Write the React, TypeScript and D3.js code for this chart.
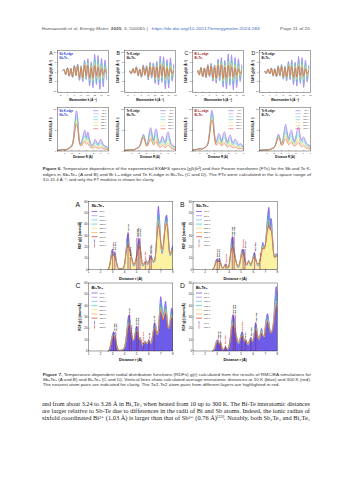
import React from 'react';
import * as d3 from 'd3';

const W = 353;
const H = 480;
const SANS = "'Liberation Sans', Arial, 'DejaVu Sans', sans-serif";
const SERIF = "'Liberation Serif', 'Times New Roman', 'DejaVu Serif', serif";

// temperatures shared by all panels
const temps = ['10 K', '50 K', '100 K', '150 K', '200 K', '250 K', '300 K'];
const tempColors = ['#7d3cd8', '#a48df2', '#63bdf0', '#3ccdb0', '#e3e867', '#f4ae48', '#e0392d'];
// where each temperature sits between the 10 K and 300 K curves
const tempMix = [0, 0.15, 0.32, 0.5, 0.66, 0.83, 1];

// EXAFS chi(k)k^2, k = 2.5 .. 15.5 step 0.5
const kGrid = d3.range(2.5, 15.51, 0.5);
const kTicks = [2, 4, 6, 8, 10, 12, 14, 16];
const chiTicks = [-10, -5, 0, 5, 10];
const exafsLow = [
  [0.3, 1.2, -1.5, 2.1, -2.4, 1.8, -3.0, 3.4, -2.2, 4.0, -4.6, 3.1, -5.2, 6.0, -4.1, 6.8, -7.5, 5.2, -8.4, 9.1, -6.8, 8.5, -9.3, 7.0, -8.0, 6.2, -4.5],
  [0.5, -1.0, 1.6, -0.8, 2.6, -2.2, 1.4, -3.0, 3.6, -2.0, 3.2, -4.4, 5.0, -3.4, 4.6, -6.2, 5.4, -7.0, 8.2, -5.6, 7.8, -9.0, 6.4, -8.6, 7.2, -5.0, 4.2],
  [0.8, -1.6, 2.2, -2.8, 2.0, -3.2, 3.8, -2.6, 4.4, -5.0, 3.6, -6.0, 6.6, -4.8, 7.4, -8.2, 6.0, -9.0, 9.4, -7.2, 8.8, -9.6, 7.6, -8.4, 6.8, -5.2, 3.8],
  [0.4, -0.9, 1.4, -1.2, 2.0, -2.4, 1.6, -2.8, 3.2, -2.4, 3.8, -4.0, 3.0, -4.8, 5.4, -4.2, 6.2, -6.8, 5.0, -7.6, 8.0, -6.2, 7.4, -8.2, 6.0, -5.4, 3.6],
];
const exafsHigh = [
  [0.3, 1.1, -1.4, 1.9, -2.1, 1.5, -2.5, 2.7, -1.7, 2.9, -3.1, 2.0, -3.1, 3.3, -2.1, 3.2, -3.2, 2.0, -3.0, 2.9, -2.0, 2.2, -2.1, 1.4, -1.4, 1.0, -0.6],
  [0.5, -0.9, 1.5, -0.7, 2.2, -1.8, 1.1, -2.3, 2.6, -1.4, 2.1, -2.7, 2.9, -1.9, 2.4, -3.0, 2.4, -2.9, 3.1, -2.0, 2.5, -2.6, 1.7, -2.0, 1.5, -0.9, 0.7],
  [0.8, -1.5, 2.0, -2.5, 1.7, -2.6, 2.9, -1.9, 3.0, -3.2, 2.2, -3.4, 3.5, -2.3, 3.3, -3.4, 2.3, -3.2, 3.1, -2.2, 2.4, -2.4, 1.7, -1.7, 1.2, -0.9, 0.6],
  [0.4, -0.8, 1.3, -1.1, 1.7, -2.0, 1.3, -2.2, 2.4, -1.7, 2.5, -2.5, 1.8, -2.6, 2.8, -2.0, 2.7, -2.8, 1.9, -2.7, 2.6, -1.9, 2.0, -2.1, 1.4, -1.1, 0.7],
];

// FT modulus, R = 0 .. 7 step 0.2
const ftR = d3.range(0, 7.01, 0.2);
const ftTicksX = [1, 2, 3, 4, 5, 6, 7];
const ftTicksY = [0, 5, 10];
const ftLow = [
  [0.1, 0.2, 0.2, 0.3, 0.4, 0.3, 0.3, 0.5, 0.8, 1.0, 1.4, 2.8, 6.5, 9.6, 8.0, 3.0, 1.8, 2.6, 4.2, 5.0, 3.4, 4.6, 3.0, 1.8, 1.4, 2.0, 2.8, 2.2, 1.6, 2.4, 2.8, 2.0, 1.4, 1.2, 1.0, 0.8],
  [0.1, 0.2, 0.2, 0.3, 0.3, 0.4, 0.3, 0.4, 0.6, 0.8, 1.0, 1.8, 3.2, 4.0, 3.0, 1.6, 2.2, 4.4, 5.6, 4.0, 2.6, 4.8, 5.2, 3.0, 2.0, 2.6, 3.6, 2.8, 2.2, 3.8, 4.6, 3.2, 1.8, 1.4, 1.2, 1.0],
  [0.2, 0.3, 0.3, 0.4, 0.5, 0.6, 0.5, 0.6, 0.8, 1.0, 1.4, 2.6, 5.8, 9.6, 8.8, 4.4, 2.2, 3.0, 4.2, 3.6, 2.4, 4.0, 4.6, 3.2, 2.2, 3.4, 3.8, 2.6, 2.0, 2.8, 2.6, 1.8, 1.6, 1.8, 1.4, 1.2],
  [0.1, 0.2, 0.2, 0.3, 0.3, 0.3, 0.3, 0.4, 0.5, 0.7, 0.9, 1.6, 3.0, 4.0, 3.2, 1.8, 2.6, 5.0, 6.4, 4.6, 3.0, 4.4, 5.0, 3.4, 2.4, 3.6, 5.2, 5.6, 3.6, 2.6, 3.4, 3.0, 2.0, 1.6, 1.4, 1.2],
];
const ftHigh = [
  [0.1, 0.2, 0.2, 0.3, 0.3, 0.3, 0.3, 0.4, 0.6, 0.8, 1.1, 2.2, 4.6, 6.4, 5.4, 2.2, 1.2, 1.4, 2.0, 2.2, 1.6, 1.8, 1.2, 0.8, 0.7, 0.8, 1.0, 0.8, 0.6, 0.7, 0.8, 0.6, 0.5, 0.4, 0.4, 0.3],
  [0.1, 0.2, 0.2, 0.2, 0.3, 0.3, 0.3, 0.3, 0.5, 0.7, 0.9, 1.5, 2.6, 3.2, 2.4, 1.2, 1.3, 2.2, 2.8, 2.0, 1.4, 2.0, 2.2, 1.3, 0.9, 1.0, 1.3, 1.0, 0.8, 1.2, 1.4, 1.0, 0.6, 0.5, 0.4, 0.4],
  [0.2, 0.3, 0.3, 0.4, 0.4, 0.5, 0.5, 0.5, 0.7, 0.9, 1.2, 2.2, 4.6, 7.2, 6.6, 3.4, 1.5, 1.6, 2.0, 1.8, 1.2, 1.6, 1.8, 1.3, 0.9, 1.2, 1.3, 0.9, 0.7, 0.9, 0.8, 0.6, 0.5, 0.6, 0.5, 0.4],
  [0.1, 0.2, 0.2, 0.2, 0.3, 0.3, 0.3, 0.3, 0.4, 0.6, 0.8, 1.4, 2.4, 3.2, 2.6, 1.4, 1.5, 2.4, 2.9, 2.1, 1.5, 1.9, 2.1, 1.5, 1.1, 1.4, 1.9, 2.0, 1.3, 1.0, 1.2, 1.0, 0.7, 0.6, 0.5, 0.5],
];

// RDF g(r), r = 2.6 .. 8.0 step 0.1 (zero below)
const rdfR = d3.range(2.6, 8.01, 0.1);
const rdfTicksX = [1, 2, 3, 4, 5, 6, 7, 8];
const rdfTicksY = [0, 10, 20, 30, 40, 50, 60];
const rdfLow = [
  [0, 1, 6, 15, 18, 12, 15, 9, 2, 0.5, 0.3, 0.5, 0.5, 1, 4, 14, 28, 32, 20, 16, 10, 4, 3, 6, 12, 22, 27, 20, 8, 3, 4, 7, 8, 4, 6, 11, 12, 9, 6, 7, 18, 40, 56, 44, 24, 14, 18, 32, 46, 48, 34, 16, 12, 18, 21],
  [0, 0.5, 3, 8, 9, 7, 10, 6, 1.5, 1, 3, 5, 3, 1, 3, 12, 26, 29, 18, 12, 6, 2, 2, 6, 14, 18, 17, 10, 4, 4, 8, 6, 3, 6, 12, 15, 10, 5, 3, 5, 10, 18, 24, 20, 22, 34, 48, 55, 44, 45, 30, 14, 10, 14, 13],
  [0, 0.5, 3, 10, 15, 17, 14, 8, 2, 0.5, 0.3, 0.5, 0.8, 1, 3, 8, 20, 30, 32, 22, 15, 9, 10, 18, 22, 18, 10, 12, 8, 4, 6, 9, 7, 6, 10, 8, 6, 12, 20, 25, 22, 14, 18, 36, 48, 40, 30, 38, 44, 34, 22, 20, 30, 38, 34],
  [0, 0.5, 2, 7, 10, 8, 6, 8, 3, 1, 2, 4, 2, 1, 4, 12, 24, 32, 30, 20, 14, 8, 6, 10, 15, 17, 12, 8, 10, 6, 5, 9, 12, 8, 10, 18, 25, 20, 12, 10, 16, 20, 14, 12, 22, 30, 33, 26, 18, 16, 20, 28, 45, 57, 50],
];
const rdfHigh = [
  [0, 2, 6, 11, 13, 12, 11, 7, 3, 1, 0.6, 0.8, 1, 2, 6, 13, 19, 21, 17, 13, 9, 6, 5, 8, 12, 17, 20, 17, 10, 5, 5, 6, 7, 6, 7, 9, 10, 9, 8, 9, 17, 30, 38, 34, 24, 18, 21, 30, 38, 40, 32, 19, 14, 16, 17],
  [0, 1, 3, 6, 7, 7, 7, 5, 2, 1.5, 3, 4, 3, 2, 5, 12, 18, 19, 15, 10, 6, 4, 4, 7, 11, 14, 13, 9, 5, 5, 7, 6, 5, 7, 10, 11, 9, 6, 5, 6, 10, 15, 19, 18, 21, 28, 35, 38, 35, 34, 25, 14, 11, 12, 11],
  [0, 1, 4, 8, 12, 13, 11, 7, 3, 1, 0.6, 0.8, 1, 2, 4, 9, 16, 21, 22, 18, 13, 10, 11, 15, 17, 15, 11, 10, 8, 6, 7, 8, 7, 7, 8, 8, 8, 11, 16, 19, 18, 15, 18, 28, 34, 31, 27, 30, 33, 28, 21, 20, 25, 29, 27],
  [0, 1, 3, 6, 8, 7, 6, 6, 3, 1.5, 2, 3, 2, 2, 5, 11, 18, 22, 21, 16, 12, 9, 8, 10, 12, 13, 11, 9, 9, 7, 7, 9, 10, 9, 10, 14, 18, 16, 12, 11, 14, 16, 13, 13, 18, 23, 25, 22, 17, 16, 18, 23, 32, 38, 35],
];

type Pair = { r: number; top: number; label: string; hot?: boolean };
const rdfPairs: Pair[][] = [
  [
    { r: 2.99, top: 16, label: 'Sb-Te2' }, { r: 3.17, top: 16, label: 'Sb-Te1' },
    { r: 4.27, top: 33, label: 'Sb-Sb' }, { r: 4.45, top: 11, label: 'Te1-Te2' },
    { r: 5.0, top: 28, label: 'Sb-Te1' }, { r: 5.13, top: 28, label: 'Te1-Te1' }, { r: 5.26, top: 28, label: 'Sb-Te2' },
    { r: 5.72, top: 7, label: 'Te2-Te2', hot: true },
    { r: 6.07, top: 13, label: 'Sb-Sb' }, { r: 6.2, top: 13, label: 'Te1-Te2' },
  ],
  [
    { r: 3.0, top: 10, label: 'Te2-Sb' }, { r: 3.17, top: 10, label: 'Te1-Sb' },
    { r: 3.72, top: 5, label: 'Te2-Te2', hot: true },
    { r: 4.25, top: 29, label: 'Te1-Te1' }, { r: 4.4, top: 29, label: 'Te1-Te2' },
    { r: 5.15, top: 18, label: 'Te2-Te2', hot: true }, { r: 5.3, top: 18, label: 'Te-Sb' },
    { r: 6.1, top: 15, label: 'Te1-Te2' }, { r: 6.55, top: 6, label: 'Te2-Te2', hot: true },
  ],
  [
    { r: 3.07, top: 17, label: 'Bi-Te2' }, { r: 3.25, top: 17, label: 'Bi-Te1' },
    { r: 4.38, top: 32, label: 'Bi-Bi' }, { r: 4.55, top: 14, label: 'Te1-Te1' },
    { r: 4.97, top: 22, label: 'Bi-Te1' }, { r: 5.12, top: 22, label: 'Bi-Te2' },
    { r: 5.55, top: 8, label: 'Te2-Te2', hot: true }, { r: 6.0, top: 10, label: 'Bi-Bi' },
    { r: 6.45, top: 25, label: 'Bi-Te' },
  ],
  [
    { r: 3.07, top: 10, label: 'Te2-Bi' }, { r: 3.25, top: 10, label: 'Te1-Bi' },
    { r: 3.68, top: 5, label: 'Te2-Te2', hot: true },
    { r: 4.35, top: 32, label: 'Te1-Te1' }, { r: 4.5, top: 32, label: 'Te1-Te2' },
    { r: 5.05, top: 17, label: 'Te2-Te2', hot: true }, { r: 5.35, top: 10, label: 'Te-Bi' },
    { r: 5.8, top: 12, label: 'Te1-Te1' }, { r: 6.2, top: 25, label: 'Te1-Te2' },
  ],
];

const letters = ['A', 'B', 'C', 'D'];
const edges = ['Sb K-edge', 'Te K-edge', 'Bi L₃-edge', 'Te K-edge'];
const compounds = ['Sb₂Te₃', 'Sb₂Te₃', 'Bi₂Te₃', 'Bi₂Te₃'];
const edgeTints = ['#2b3bd6', '#111', '#a0141e', '#111'];

function blend(low: number[], high: number[], m: number) {
  return low.map((v, i) => v + (high[i] - v) * m);
}

function Frame({ x, y, w, h }: { x: number; y: number; w: number; h: number }) {
  return <rect x={x} y={y} width={w} height={h} fill="none" stroke="#222" strokeWidth={0.4} />;
}

function Axes({ xs, ys, xt, yt, size }: any) {
  const [x0] = xs.range();
  const [y0] = ys.range();
  return (
    <g fontFamily={SANS} fontSize={size} fill="#222">
      {xt.map((t: number) => (
        <g key={'x' + t}>
          <line x1={xs(t)} x2={xs(t)} y1={y0} y2={y0 - 1} stroke="#222" strokeWidth={0.3} />
          <text x={xs(t)} y={y0 + size + 0.6} textAnchor="middle">{t}</text>
        </g>
      ))}
      {yt.map((t: number) => (
        <g key={'y' + t}>
          <line x1={x0} x2={x0 + 1} y1={ys(t)} y2={ys(t)} stroke="#222" strokeWidth={0.3} />
          <text x={x0 - 1} y={ys(t) + size * 0.35} textAnchor="end">{t}</text>
        </g>
      ))}
    </g>
  );
}

function ExafsPanel({ i, px, py, w, h }: any) {
  const x = d3.scaleLinear().domain([1, 16]).range([px, px + w]);
  const y = d3.scaleLinear().domain([-11, 11]).range([py + h, py]);
  const line = d3.line<number>().x((_, j) => x(kGrid[j])).y((d) => y(d)).curve(d3.curveCardinal);
  return (
    <g>
      {tempMix.map((m, t) => (
        <path key={t} d={line(blend(exafsLow[i], exafsHigh[i], m)) || ''} fill="none" stroke={tempColors[t]} strokeWidth={0.45} />
      ))}
      <Frame x={px} y={py} w={w} h={h} />
      <Axes xs={x} ys={y} xt={kTicks} yt={chiTicks} size={2.3} />
      <text x={px - 8} y={py + 4} fontFamily={SANS} fontSize={5.2} fill="#111">{letters[i]}</text>
      <g fontFamily={SANS} fontSize={2.8} fontWeight="bold" fill={edgeTints[i]}>
        <text x={px + 2} y={py + 4.2}>{edges[i]}</text>
        <text x={px + 2} y={py + 8}>{compounds[i]}</text>
      </g>
      <text x={px + w / 2} y={py + h + 8.2} textAnchor="middle" fontFamily={SANS} fontSize={2.9} fontWeight="bold">Wavenumber k (Å⁻¹)</text>
      <text transform={`translate(${px - 5.5},${py + h / 2}) rotate(-90)`} textAnchor="middle" fontFamily={SANS} fontSize={2.6} fontWeight="bold">EXAFS χ(k)k² (Å⁻²)</text>
    </g>
  );
}

function FtPanel({ i, px, py, w, h }: any) {
  const x = d3.scaleLinear().domain([0, 7]).range([px, px + w]);
  const y = d3.scaleLinear().domain([0, 10.4]).range([py + h, py]);
  const line = d3.line<number>().x((_, j) => x(ftR[j])).y((d) => y(d)).curve(d3.curveCardinal);
  return (
    <g>
      {tempMix.map((m, t) => (
        <path key={t} d={line(blend(ftLow[i], ftHigh[i], m)) || ''} fill="none" stroke={tempColors[t]} strokeWidth={0.45} />
      ))}
      <Frame x={px} y={py} w={w} h={h} />
      <Axes xs={x} ys={y} xt={ftTicksX} yt={ftTicksY} size={2.3} />
      <g fontFamily={SANS} fontSize={2.8} fontWeight="bold" fill={edgeTints[i]}>
        <text x={px + 2} y={py + 4.2}>{edges[i]}</text>
        <text x={px + 2} y={py + 8}>{compounds[i]}</text>
      </g>
      <g fontFamily={SANS} fontSize={2} fill="#222">
        {temps.map((lab, t) => (
          <g key={lab}>
            <line x1={px + w - 15} x2={px + w - 10} y1={py + 3 + t * 3} y2={py + 3 + t * 3} stroke={tempColors[t]} strokeWidth={0.5} />
            <text x={px + w - 2} y={py + 3.7 + t * 3} textAnchor="end">{lab}</text>
          </g>
        ))}
      </g>
      <text x={px + w / 2} y={py + h + 7.2} textAnchor="middle" fontFamily={SANS} fontSize={2.9} fontWeight="bold">Distance R (Å)</text>
      <text transform={`translate(${px - 5.5},${py + h / 2}) rotate(-90)`} textAnchor="middle" fontFamily={SANS} fontSize={2.6} fontWeight="bold">FT MODULUS (Å⁻³)</text>
    </g>
  );
}

function RdfPanel({ i, px, py, w, h }: any) {
  const x = d3.scaleLinear().domain([1, 8]).range([px, px + w]);
  const y = d3.scaleLinear().domain([0, 60]).range([py + h, py]);
  const line = d3.line<number>().x((_, j) => x(rdfR[j])).y((d) => y(d)).curve(d3.curveMonotoneX);
  const area = d3.area<number>().x((_, j) => x(rdfR[j])).y0(y(0)).y1((d) => y(d)).curve(d3.curveMonotoneX);
  const lowFill = <path d={area(rdfLow[i]) || ''} fill="#6d5ce8" />;
  const highFill = <path d={area(rdfHigh[i]) || ''} fill="#fbf3a2" />;
  const sbTe = i < 2;
  return (
    <g>
      {sbTe ? lowFill : highFill}
      {sbTe ? highFill : lowFill}
      {tempMix.map((m, t) => (
        <path key={t} d={line(blend(rdfLow[i], rdfHigh[i], m)) || ''} fill="none" stroke={tempColors[t]} strokeWidth={0.5} />
      ))}
      {rdfPairs[i].map((p, k) => (
        <g key={k}>
          <line x1={x(p.r)} x2={x(p.r)} y1={y(0)} y2={y(p.top)} stroke="#1a2fe0" strokeWidth={0.35} />
          <line x1={x(p.r + 0.03)} x2={x(p.r + 0.03)} y1={y(0)} y2={y(p.top)} stroke="#e0201a" strokeWidth={0.35} />
          <text transform={`translate(${x(p.r) + 1.1},${y(p.top) - 1}) rotate(-90)`} fontFamily={SANS} fontSize={2.5} fontWeight="bold" fill={p.hot ? '#e0201a' : '#111'}>{p.label}</text>
        </g>
      ))}
      <Frame x={px} y={py} w={w} h={h} />
      <Axes xs={x} ys={y} xt={rdfTicksX} yt={rdfTicksY} size={2.9} />
      <text x={px - 13} y={py + 5} fontFamily={SANS} fontSize={6.8} fill="#111">{letters[i]}</text>
      <text x={px + 3} y={py + 5.5} fontFamily={SANS} fontSize={3.8} fontWeight="bold">{compounds[i]}</text>
      <g fontFamily={SANS} fontSize={2.5} fill="#222">
        {temps.map((lab, t) => (
          <g key={lab}>
            <line x1={px + 3} x2={px + 9} y1={py + 10 + t * 4.2} y2={py + 10 + t * 4.2} stroke={tempColors[t]} strokeWidth={0.7} />
            <text x={px + 11} y={py + 10.9 + t * 4.2}>{lab}</text>
          </g>
        ))}
        {['10 K', '300 K'].map((lab, t) => (
          <g key={'v' + lab}>
            <line x1={px + 6} x2={px + 6} y1={py + 38 + t * 4.2} y2={py + 41.5 + t * 4.2} stroke={t ? '#e0201a' : '#1a2fe0'} strokeWidth={0.5} />
            <text x={px + 11} y={py + 40.7 + t * 4.2}>{lab}</text>
          </g>
        ))}
      </g>
      <text x={px + w / 2} y={py + h + 10.3} textAnchor="middle" fontFamily={SANS} fontSize={3.6} fontWeight="bold">Distance r (Å)</text>
      <text transform={`translate(${px - 8},${py + h / 2}) rotate(-90)`} textAnchor="middle" fontFamily={SANS} fontSize={3.1} fontWeight="bold">RDF g(r) (atoms/Å)</text>
    </g>
  );
}

function TextLine({ x, y, len, size, font, fill = '#333', children }: any) {
  return (
    <text x={x} y={y} fontFamily={font} fontSize={size} fill={fill} textLength={len} lengthAdjust="spacingAndGlyphs">{children}</text>
  );
}

const fig6X = [57.3, 124.5, 192.5, 259.5];
const fig7X = [88.5, 193, 88.5, 193];
const fig7Y = [201.5, 201.5, 283, 283];

export default function App() {
  return (
    <div style={{ width: W, height: H, background: '#fff' }}>
      <style>{'body{margin:0;background:#fff}'}</style>
      <svg width={W} height={H} viewBox={`0 0 ${W} ${H}`} style={{ display: 'block' }}>
        <rect width={W} height={H} fill="#fff" />
        <TextLine x={41.7} y={30.3} len={106} size={3.7} font={SANS} fill="#555">
          Hamawandi <tspan fontStyle="italic">et al. Energy Mater.</tspan> <tspan fontWeight="bold">2025</tspan>, <tspan fontStyle="italic">5</tspan>, 500065 |
        </TextLine>
        <TextLine x={151.7} y={30.3} len={108} size={3.7} font={SANS} fill="#3b6cc4">https://dx.doi.org/10.20517/energymater.2024.284</TextLine>
        <TextLine x={280} y={30.3} len={30} size={3.7} font={SANS} fill="#555">Page 11 of 20</TextLine>

        {fig6X.map((px, i) => <ExafsPanel key={'e' + i} i={i} px={px} py={50.7} w={51} h={42} />)}
        {fig6X.map((px, i) => <FtPanel key={'f' + i} i={i} px={px} py={107.7} w={51} h={43.3} />)}

        <TextLine x={42.7} y={170.4} len={268.3} size={4} font={SANS}>
          <tspan fontWeight="bold">Figure 6.</tspan> Temperature dependence of the experimental EXAFS spectra [χ(k)k²] and their Fourier transforms (FTs) for the Sb and Te K-
        </TextLine>
        <TextLine x={42.7} y={175.8} len={268.3} size={4} font={SANS}>
          edges in Sb₂Te₃ (A and B) and Bi L₃-edge and Te K-edge in Bi₂Te₃ (C and D). The FTs were calculated in the k-space range of
        </TextLine>
        <TextLine x={42.7} y={181.3} len={112} size={4} font={SANS}>
          3.0-15.4 Å⁻¹, and only the FT modulus is shown for clarity.
        </TextLine>

        {fig7X.map((px, i) => <RdfPanel key={'r' + i} i={i} px={px} py={fig7Y[i]} w={84.3} h={68} />)}

        <TextLine x={42.7} y={375.7} len={268.3} size={4} font={SANS}>
          <tspan fontWeight="bold">Figure 7.</tspan> Temperature-dependent radial distribution functions (RDFs) g(r) calculated from the results of RMC/EA simulations for
        </TextLine>
        <TextLine x={42.7} y={380.9} len={268.3} size={4} font={SANS}>
          Sb₂Te₃ (A and B) and Bi₂Te₃ (C and D). Vertical lines show calculated average interatomic distances at 10 K (blue) and 300 K (red).
        </TextLine>
        <TextLine x={42.7} y={386.1} len={237} size={4} font={SANS}>
          The nearest atom pairs are indicated for clarity. The Te2-Te2 atom pairs from different layers are highlighted in red.
        </TextLine>

        <TextLine x={42} y={406.3} len={268} size={5.9} font={SERIF} fill="#222">
          and from about 3.24 to 3.26 Å in Bi₂Te₃ when heated from 10 up to 300 K. The Bi-Te interatomic distances
        </TextLine>
        <TextLine x={42} y={413.1} len={268} size={5.9} font={SERIF} fill="#222">
          are larger relative to Sb-Te due to differences in the radii of Bi and Sb atoms. Indeed, the ionic radius of
        </TextLine>
        <TextLine x={42} y={419.9} len={268} size={5.9} font={SERIF} fill="#222">
          sixfold coordinated Bi³⁺ (1.03 Å) is larger than that of Sb³⁺ (0.76 Å)<tspan dy={-1.8} fontSize={4}>[33]</tspan><tspan dy={1.8}>. Notably, both Sb₂Te₃ and Bi₂Te₃</tspan>
        </TextLine>
      </svg>
    </div>
  );
}
